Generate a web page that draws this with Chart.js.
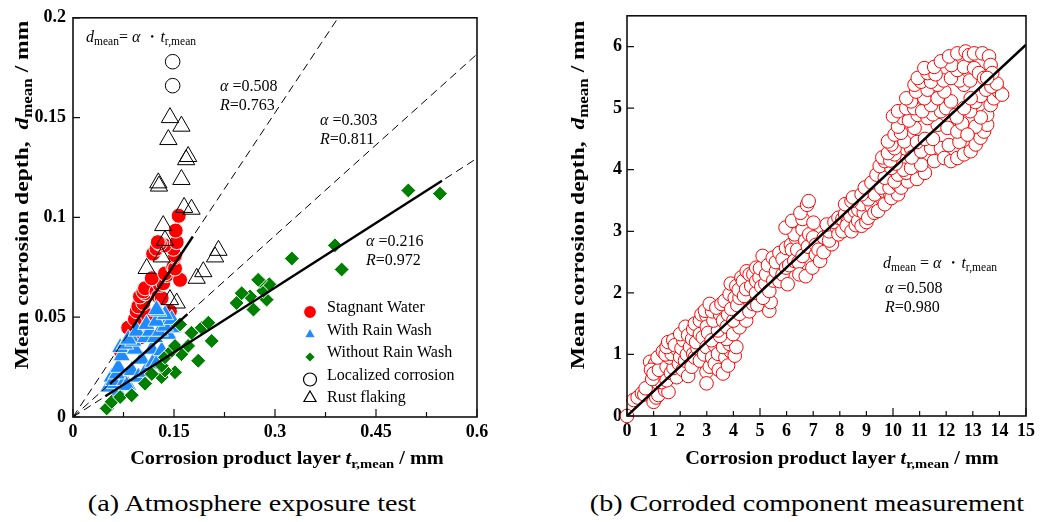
<!DOCTYPE html>
<html>
<head>
<meta charset="utf-8">
<script src="https://cdn.jsdelivr.net/npm/chart.js@4.4.0/dist/chart.umd.min.js"></script>
<style>
  body { margin: 0; background: #fff; width: 1043px; height: 522px; position: relative; overflow: hidden;
         font-family: 'Liberation Serif', 'Times New Roman', serif; color: #000; }
  canvas { position: absolute; top: 0; }
  #chartA { left: 0; }
  #chartB { left: 540px; }
  .note { position: absolute; font-size: 16px; line-height: 19px; white-space: nowrap; }
  .note sub, .axis-title sub { font-size: 0.72em; vertical-align: -0.3em; line-height: 0; }
  .axis-title { position: absolute; font-weight: bold; font-size: 18px; white-space: nowrap; text-align: center; width: 400px; height: 22px; line-height: 22px; transform: scaleX(1.13); }
  .ytitle { font-size: 19px; transform: rotate(-90deg) scaleX(1.24); }
  .caption { position: absolute; font-size: 24px; text-align: center; width: 500px; top: 490px; white-space: nowrap; transform: scaleX(1.17); }
</style>
</head>
<body>
<canvas id="chartA" width="500" height="460"></canvas>
<canvas id="chartB" width="500" height="460"></canvas>

<div class="axis-title ytitle" style="left:-178px; top:184px">Mean corrosion depth,&nbsp; <i>d</i><sub>mean</sub> / mm</div>
<div class="axis-title" style="left:87px; top:447px">Corrosion product layer <i>t</i><sub>r,mean</sub> / mm</div>
<div class="axis-title ytitle" style="left:378px; top:184px">Mean corrosion depth,&nbsp; <i>d</i><sub>mean</sub> / mm</div>
<div class="axis-title" style="left:642px; top:447px">Corrosion product layer <i>t</i><sub>r,mean</sub> / mm</div>

<div class="caption" style="left:2px">(a) Atmosphere exposure test</div>
<div class="caption" style="left:557px">(b) Corroded component measurement</div>

<div id="notes"></div>

<script>
const serif = "'Liberation Serif', 'Times New Roman', serif";

// ---- (a) atmosphere exposure test ----
const xTicksA = [0, 0.15, 0.3, 0.45, 0.6];
const xMinorA = [0.075, 0.225, 0.375, 0.525];
const yTicksA = [0, 0.05, 0.1, 0.15, 0.2];

// [t_r,mean, d_mean] in mm
const stagnantWater = [
  [0.071, 0.033], [0.087, 0.0381], [0.0995, 0.0398], [0.082, 0.0447], [0.092, 0.0489],
  [0.0946, 0.053], [0.111, 0.051], [0.097, 0.0554], [0.1045, 0.0571], [0.0995, 0.0604],
  [0.107, 0.062], [0.1045, 0.0629], [0.107, 0.0645], [0.124, 0.0629], [0.1267, 0.0604],
  [0.1317, 0.0596], [0.144, 0.053], [0.129, 0.0662], [0.134, 0.067], [0.117, 0.0695],
  [0.139, 0.0711], [0.1366, 0.0719], [0.159, 0.0687], [0.149, 0.0752], [0.1515, 0.0744],
  [0.1515, 0.0802], [0.1515, 0.081], [0.119, 0.0818], [0.124, 0.0843], [0.149, 0.0843],
  [0.1357, 0.086], [0.129, 0.0868], [0.126, 0.0876], [0.154, 0.0876], [0.1525, 0.0934],
  [0.157, 0.1008]
];
const withRainWash = [
  [0.0525, 0.015], [0.0673, 0.0125], [0.0624, 0.0167], [0.0575, 0.02], [0.06, 0.0183],
  [0.0772, 0.0183], [0.082, 0.0158], [0.0797, 0.0158], [0.065, 0.0216], [0.0673, 0.0249],
  [0.0872, 0.0233], [0.097, 0.02], [0.107, 0.0224], [0.0723, 0.0307], [0.07, 0.0348],
  [0.102, 0.029], [0.119, 0.0274], [0.124, 0.0266], [0.092, 0.034], [0.117, 0.034],
  [0.1317, 0.0332], [0.0772, 0.0365], [0.0896, 0.038], [0.082, 0.039], [0.107, 0.0398],
  [0.1218, 0.0398], [0.1416, 0.0414], [0.0946, 0.043], [0.1144, 0.043], [0.129, 0.043],
  [0.149, 0.0447], [0.1094, 0.0464], [0.109, 0.0464], [0.1366, 0.0455], [0.124, 0.048],
  [0.1466, 0.0489], [0.1366, 0.0513], [0.1267, 0.053], [0.124, 0.0538]
];
const withoutRainWash = [
  [0.05, 0.0043], [0.0575, 0.0076], [0.07, 0.01], [0.0872, 0.0109], [0.107, 0.0167],
  [0.1317, 0.02], [0.117, 0.0216], [0.1515, 0.0224], [0.1366, 0.0233], [0.1317, 0.0257],
  [0.1366, 0.0299], [0.186, 0.0282], [0.161, 0.0315], [0.1466, 0.0332], [0.1515, 0.0356],
  [0.171, 0.0356], [0.206, 0.0381], [0.176, 0.0422], [0.191, 0.0447], [0.159, 0.0464],
  [0.201, 0.0472], [0.268, 0.0538], [0.243, 0.0571], [0.2876, 0.0588], [0.263, 0.0604],
  [0.2505, 0.062], [0.2827, 0.0632], [0.2916, 0.0665], [0.2777, 0.0682], [0.275, 0.0687],
  [0.399, 0.0739], [0.325, 0.0794], [0.389, 0.086], [0.498, 0.1135], [0.545, 0.1119]
];
const localizedCorrosion = [[0.148, 0.178], [0.148, 0.166]];
const rustFlaking = [
  [0.144, 0.150], [0.161, 0.1457], [0.1416, 0.139], [0.171, 0.1305], [0.168, 0.1289],
  [0.161, 0.119], [0.1267, 0.1173], [0.1277, 0.1157], [0.165, 0.105], [0.176, 0.1041],
  [0.134, 0.0959], [0.1366, 0.0885], [0.1317, 0.0802], [0.1094, 0.0744], [0.216, 0.0835],
  [0.211, 0.0802], [0.1935, 0.0728], [0.1837, 0.0695], [0.144, 0.0588], [0.154, 0.0571]
];

// fitted d = alpha * t for each exposure group
const alphaA = [0.508, 0.303, 0.216];
const rA = [0.763, 0.811, 0.972];
const solidSpanA = [[0.088, 0.178], [0.055, 0.17], [0.048, 0.548]];

// ---- (b) corroded component measurement ----
const xTicksB = [0, 1, 2, 3, 4, 5, 6, 7, 8, 9, 10, 11, 12, 13, 14, 15];
const xMajorB = [0, 5, 10, 15];
const yTicksB = [0, 1, 2, 3, 4, 5, 6];
const alphaB = 0.508;
const rB = 0.980;
const fitLineB = [[0, 0], [15, 6.03]];

const measured = [
  [0, 0], [0.25, 0.26], [0.4, 0.3], [0.56, 0.37], [0.65, 0.35], [0.81, 0.45], [0.7, 0.45], [1.18, 0.53],
  [1.0, 0.23], [1.1, 0.3], [1.18, 0.34], [1.43, 0.42], [1.56, 0.39], [1.3, 0.55], [0.95, 0.6],
  [0.87, 0.88], [1.06, 0.85], [1.31, 0.9], [0.9, 0.75], [1.0, 0.69], [1.2, 0.75], [1.49, 0.8],
  [1.49, 0.58], [1.65, 0.7], [1.87, 0.63], [1.75, 0.78], [1.6, 0.95], [1.15, 0.95], [1.35, 1.05],
  [1.45, 1.0], [1.68, 1.01], [1.87, 1.09], [1.95, 0.85], [2.0, 0.96], [1.49, 1.12], [1.55, 1.2],
  [1.74, 1.23], [1.8, 1.15], [2.05, 1.1], [2.12, 1.23], [2.1, 0.75], [2.3, 0.65], [2.18, 0.9],
  [2.25, 1.0], [2.0, 1.33], [2.2, 1.45], [2.3, 1.31], [2.37, 1.12], [2.43, 0.8], [2.49, 1.01],
  [2.55, 0.95], [2.65, 1.1], [2.45, 1.25], [2.49, 1.41], [2.55, 1.5], [2.6, 1.2], [2.74, 0.9],
  [2.9, 1.0], [2.74, 1.33], [2.74, 1.55], [2.8, 1.65], [2.85, 1.28], [2.99, 1.12], [2.99, 1.63],
  [2.93, 1.71], [3.0, 1.45], [3.05, 1.35], [2.99, 0.72], [2.99, 0.53], [3.11, 0.8], [3.2, 0.95],
  [3.3, 0.85], [3.3, 1.15], [3.42, 1.01], [3.45, 0.75], [3.61, 0.69], [3.7, 0.95], [3.80, 0.82],
  [3.9, 1.05], [4.05, 0.98], [3.61, 1.12], [3.86, 1.17], [4.11, 1.12], [3.74, 1.25], [3.18, 1.23],
  [3.5, 1.3], [3.42, 1.39], [3.25, 1.55], [3.2, 1.7], [3.5, 1.65], [3.61, 1.55], [3.75, 1.45],
  [3.8, 1.65], [3.99, 1.33], [4.23, 1.44], [4.0, 1.55], [4.48, 1.55], [4.23, 1.66], [4.6, 1.7],
  [4.73, 1.82], [4.9, 1.8], [5.35, 1.71], [5.4, 1.85], [3.11, 1.82], [3.36, 1.76], [3.55, 1.82],
  [3.67, 1.87], [3.86, 1.98], [3.92, 1.74], [4.05, 1.92], [4.15, 1.8], [4.23, 1.92], [3.9, 2.15],
  [4.11, 2.11], [4.2, 2.05], [4.3, 2.25], [4.36, 2.19], [4.4, 1.95], [4.48, 2.06], [4.5, 2.35],
  [4.67, 2.11], [4.61, 2.3], [4.75, 2.3], [4.85, 2.0], [4.86, 2.19], [4.86, 2.41], [4.98, 2.25],
  [5.0, 2.4], [5.05, 2.1], [5.11, 1.92], [5.2, 2.15], [5.35, 2.03], [5.1, 2.6], [5.23, 2.3],
  [5.3, 2.45], [5.48, 2.57], [5.5, 2.2], [5.6, 2.35], [5.6, 2.5], [5.73, 2.19], [5.73, 2.65],
  [5.85, 2.55], [5.85, 2.3], [5.98, 2.41], [6.04, 2.14], [5.98, 2.73], [6.1, 2.45], [6.16, 2.78],
  [6.2, 2.7], [6.29, 2.52], [6.35, 2.89], [6.3, 2.95], [6.4, 2.7], [6.45, 2.5], [6.48, 2.30],
  [6.6, 2.6], [6.72, 2.27], [6.6, 3.03], [6.7, 2.85], [6.8, 2.75], [6.97, 2.41], [6.85, 2.95],
  [7.0, 2.9], [5.96, 3.06], [6.21, 3.17], [6.6, 3.2], [6.52, 3.30], [6.77, 3.43], [6.83, 3.49],
  [7.01, 3.14], [7.1, 2.62], [7.1, 2.78], [7.2, 2.7], [7.26, 2.52], [7.39, 2.66], [7.4, 2.9],
  [7.70, 2.79], [7.6, 2.85], [7.6, 3.0], [7.51, 3.11], [7.9, 3.05], [7.8, 3.15], [7.95, 2.95],
  [7.95, 3.22], [8.1, 3.0], [8.1, 3.2], [8.2, 3.28], [8.3, 3.15], [8.26, 3.09], [8.44, 3.0],
  [8.4, 3.25], [8.6, 3.1], [8.57, 3.33], [8.69, 3.17], [8.7, 3.35], [8.82, 3.09], [8.9, 3.3],
  [8.82, 3.44], [9.0, 3.15], [9.07, 3.22], [9.2, 3.4], [9.3, 3.3], [9.07, 3.52], [9.44, 3.33],
  [9.31, 3.6], [9.69, 3.44], [8.2, 3.44], [8.44, 3.49], [8.5, 3.55], [8.82, 3.6], [9.69, 3.65],
  [9.9, 3.6], [9.94, 3.54], [10.19, 3.6], [8.94, 3.71], [9.19, 3.79], [9.56, 3.71], [9.87, 3.71],
  [10.2, 3.75], [10.31, 3.71], [9.38, 3.92], [9.69, 3.87], [10.06, 3.81], [10.56, 3.81],
  [10.19, 3.92], [10.5, 3.95], [10.9, 3.85], [11.2, 3.95], [9.5, 4.06], [9.94, 4.03], [10.31, 4.14],
  [10.4, 4.0], [10.1, 4.1], [10.68, 4.03], [11.06, 4.08], [11.55, 4.14], [9.69, 4.14], [9.6, 4.2],
  [9.9, 4.15], [10.06, 4.25], [9.81, 4.27], [10.06, 4.35], [10.68, 4.35], [10.7, 4.2], [11.06, 4.30],
  [11.43, 4.35], [11.80, 4.35], [12.1, 4.4], [12.5, 4.45], [11.93, 4.19], [12.18, 4.14], [12.42, 4.19],
  [12.67, 4.25], [12.92, 4.30], [13.11, 4.41], [13.29, 4.52], [13.42, 4.62], [13.54, 4.73],
  [13.54, 4.89], [13.67, 5.05], [13.79, 5.16], [13.98, 5.27], [14.1, 5.22], [13.1, 4.7],
  [13.3, 4.85], [12.9, 4.95], [13.1, 5.1], [13.3, 5.2], [13.5, 5.3], [13.7, 5.35], [13.9, 5.4],
  [9.94, 4.41], [9.81, 4.46], [10.43, 4.46], [10.9, 4.45], [11.2, 4.5], [11.5, 4.5], [10.06, 4.57],
  [10.3, 4.6], [10.81, 4.68], [11.68, 4.73], [12.05, 4.68], [12.42, 4.62], [12.6, 4.75], [12.8, 4.57],
  [10.19, 4.70], [10.37, 4.84], [10.6, 4.8], [10.0, 4.87], [10.93, 4.89], [11.30, 4.84], [11.5, 4.9],
  [11.8, 4.95], [12.0, 5.0], [12.36, 4.89], [12.4, 4.85], [10.19, 4.95], [10.5, 5.0], [10.8, 5.0],
  [11.1, 4.95], [11.43, 5.05], [12.67, 5.0], [10.68, 5.11], [10.5, 5.16], [11.18, 5.16], [11.68, 5.16],
  [12.18, 5.11], [12.92, 5.16], [10.87, 5.27], [11.3, 5.3], [11.93, 5.27], [10.81, 5.38], [11.68, 5.38],
  [12.67, 5.38], [11.06, 5.43], [11.43, 5.43], [11.9, 5.45], [12.5, 5.45], [12.9, 5.45], [10.93, 5.49],
  [12.18, 5.49], [11.30, 5.57], [11.6, 5.55], [11.18, 5.65], [12.42, 5.62], [12.2, 5.7], [12.67, 5.67],
  [11.55, 5.67], [11.8, 5.76], [12.11, 5.84], [12.42, 5.89], [12.73, 5.92], [12.86, 5.86], [13.05, 5.89],
  [13.36, 5.89], [13.61, 5.84], [13.67, 5.70], [13.73, 5.57], [13.05, 5.65], [13.23, 5.57], [13.42, 5.49],
  [13.54, 5.49]
];

const pts = arr => arr.map(([x, y]) => ({ x, y }));
const axisFont = { family: serif, size: 18, weight: 'bold' };

// inward tick marks and the closed frame around the plot area
const frame = {
  id: 'frame',
  afterDatasetsDraw(chart, args, opts) {
    const { ctx, chartArea: a, scales: { x, y } } = chart;
    ctx.save();
    ctx.strokeStyle = '#111';
    ctx.lineWidth = 1.2;
    ctx.beginPath();
    const xTick = (v, len) => { const px = x.getPixelForValue(v); ctx.moveTo(px, a.bottom); ctx.lineTo(px, a.bottom - len); };
    const yTick = (v, len) => { const py = y.getPixelForValue(v); ctx.moveTo(a.left, py); ctx.lineTo(a.left + len, py); };
    opts.xMajor.forEach(v => xTick(v, 8));
    opts.xMinor.forEach(v => xTick(v, 5));
    opts.yMajor.forEach(v => yTick(v, 7));
    ctx.stroke();
    ctx.lineWidth = 1.6;
    ctx.strokeRect(a.left, a.top, a.width, a.height);
    ctx.restore();
  }
};

// legend box inside the lower right of panel (a)
const markerLegend = {
  id: 'markerLegend',
  afterDraw(chart) {
    const { ctx, chartArea: a } = chart;
    ctx.save();
    ctx.font = '16px ' + serif;
    ctx.textBaseline = 'middle';
    let row = 0;
    chart.data.datasets.forEach(ds => {
      if (!ds.legendRadius) return;
      const ty = a.bottom - 109 + row * 22.5;
      ctx.fillStyle = ds.pointBackgroundColor;
      ctx.strokeStyle = ds.pointBorderColor;
      ctx.lineWidth = 1.2;
      Chart.helpers.drawPoint(ctx, { pointStyle: ds.pointStyle, radius: ds.legendRadius, rotation: 0, borderWidth: 1.2 },
        a.right - 167, ty + (row < 4 ? 4 : 0));
      ctx.fillStyle = '#000';
      ctx.fillText(ds.label, a.right - 150, ty);
      row++;
    });
    ctx.restore();
  }
};

function axis(min, max, ticks, labelPad, fitSize, isX) {
  return {
    type: 'linear', min, max,
    afterBuildTicks: s => { s.ticks = ticks.map(v => ({ value: v })); },
    afterFit: s => { if (isX) s.height = fitSize; else s.width = fitSize; },
    grid: { display: false, drawTicks: false },
    border: { display: false },
    ticks: { font: axisFont, color: '#000', padding: labelPad, maxRotation: 0, autoSkip: false, callback: v => String(v) }
  };
}

const markerSet = (label, data, style, fill, stroke, radius, legendRadius, order, edge = 1) => ({
  label, data: pts(data), pointStyle: style, pointRadius: radius, pointHoverRadius: radius,
  pointBackgroundColor: fill, pointBorderColor: stroke, pointBorderWidth: edge,
  backgroundColor: fill, borderColor: stroke, legendRadius, order
});

new Chart(document.getElementById('chartA'), {
  type: 'scatter',
  data: {
    datasets: [
      markerSet('Stagnant Water', stagnantWater, 'circle', '#ff0000', '#ffffff', 7.5, 6.5, 5),
      markerSet('With Rain Wash', withRainWash, 'triangle', '#1e8cff', '#ffffff', 10, 6.5, 4, 0.8),
      markerSet('Without Rain Wash', withoutRainWash, 'rectRot', '#008000', '#ffffff', 7.5, 5.5, 3),
      markerSet('Localized corrosion', localizedCorrosion, 'circle', 'rgba(255,255,255,0)', '#000000', 7.3, 6.5, 2),
      markerSet('Rust flaking', rustFlaking, 'triangle', 'rgba(255,255,255,0)', '#000000', 10, 7, 1),
      ...alphaA.map(a => ({
        data: [{ x: 0, y: 0 }, { x: 0.6, y: a * 0.6 }], showLine: true, borderColor: '#000',
        borderWidth: 1, borderDash: [8, 5], pointRadius: 0, order: 0
      })),
      ...alphaA.map((a, i) => ({
        data: solidSpanA[i].map(t => ({ x: t, y: a * t })), showLine: true, borderColor: '#000',
        borderWidth: 2.4, pointRadius: 0, order: 0
      }))
    ]
  },
  options: {
    responsive: false, animation: false, events: [],
    layout: { padding: { top: 13, right: 23, left: 0, bottom: 0 } },
    scales: {
      x: axis(0, 0.6, xTicksA, 5, 43, true),
      y: axis(0, 0.2, yTicksA, 7, 73, false)
    },
    plugins: {
      legend: { display: false }, tooltip: { enabled: false },
      frame: { xMajor: xTicksA, xMinor: xMinorA, yMajor: yTicksA }
    }
  },
  plugins: [frame, markerLegend]
});

new Chart(document.getElementById('chartB'), {
  type: 'scatter',
  data: {
    datasets: [
      {
        data: pts(fitLineB), showLine: true, borderColor: '#000', borderWidth: 2.4, pointRadius: 0, order: 0
      },
      {
        data: pts(measured), pointStyle: 'circle', pointRadius: 6.8, pointBorderWidth: 1,
        pointBackgroundColor: '#ffffff', pointBorderColor: '#ff0000', clip: false, order: 1
      }
    ]
  },
  options: {
    responsive: false, animation: false, events: [],
    layout: { padding: { top: 14, right: 11, left: 0, bottom: 0 } },
    scales: {
      x: axis(0, 15, xTicksB, 5, 44, true),
      y: axis(0, 6.5, yTicksB, 5, 87, false)
    },
    plugins: {
      legend: { display: false }, tooltip: { enabled: false },
      frame: { xMajor: xMajorB, xMinor: xTicksB.filter(v => !xMajorB.includes(v)), yMajor: yTicksB }
    }
  },
  plugins: [frame]
});

// fit annotations
const notePosA = [[220, 76], [320, 110], [366, 231]];
const alpha = '<i>α</i>';
let html = '<div class="note" style="left:86px; top:27px"><i>d</i><sub>mean</sub>= ' + alpha + ' ・<i>t</i><sub>r,mean</sub></div>';
alphaA.forEach((a, i) => {
  html += '<div class="note" style="left:' + notePosA[i][0] + 'px; top:' + notePosA[i][1] + 'px">' +
    alpha + ' =' + a.toFixed(3) + '<br><i>R</i>=' + rA[i].toFixed(3) + '</div>';
});
html += '<div class="note" style="left:883px; top:253px"><i>d</i><sub>mean</sub> = ' + alpha + ' ・<i>t</i><sub>r,mean</sub></div>';
html += '<div class="note" style="left:885px; top:278px">' + alpha + ' =' + alphaB.toFixed(3) +
  '<br><i>R</i>=' + rB.toFixed(3) + '</div>';
document.getElementById('notes').innerHTML = html;
</script>
</body>
</html>
